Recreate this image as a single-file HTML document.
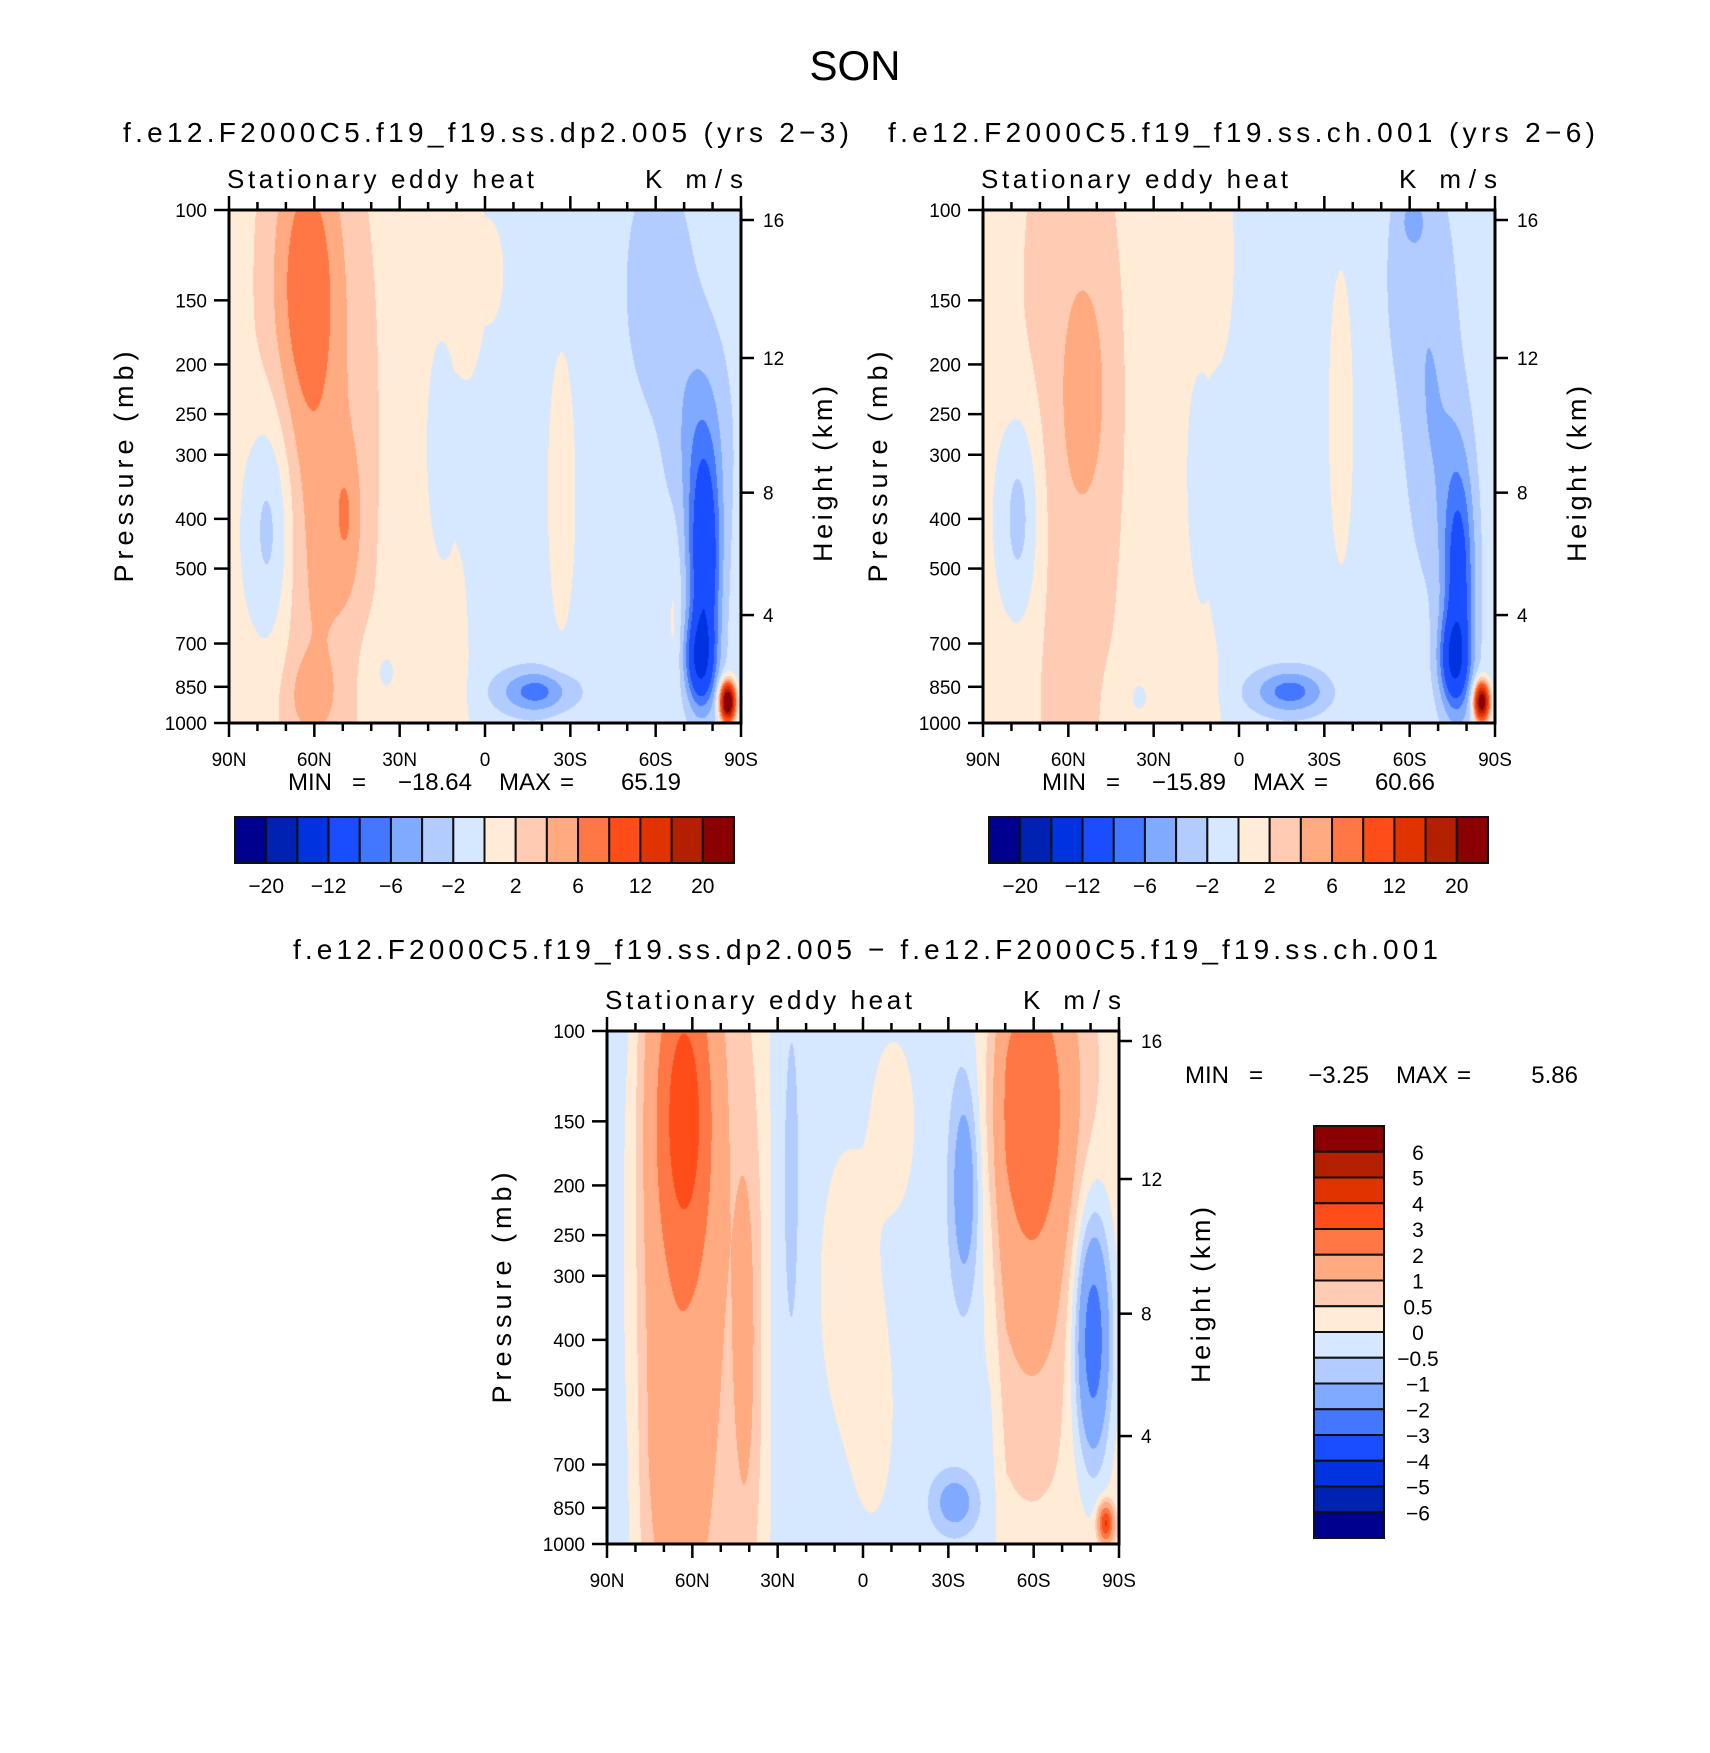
<!DOCTYPE html>
<html><head><meta charset="utf-8"><style>
html,body{margin:0;padding:0;background:#fff;}
#wrap{position:relative;width:1710px;height:1753px;overflow:hidden;background:#fff;}
canvas{position:absolute;}
svg{position:absolute;left:0;top:0;}
text{font-family:"Liberation Sans",sans-serif;fill:#000;white-space:pre;}
</style></head><body>
<div id="wrap">
<canvas id="c1" width="512" height="513" style="left:229px;top:210px"></canvas>
<canvas id="c2" width="512" height="513" style="left:983px;top:210px"></canvas>
<canvas id="c3" width="512" height="513" style="left:607px;top:1031px"></canvas>
<svg id="ov" width="1710" height="1753"></svg>
</div>
<script>
// ---- data ----
const palette=["#00008F","#0022B3","#0033E0","#1A4DFF","#4477FF","#80AAFF","#B3CCFF","#D6E8FF","#FFEBD6","#FFCCB3","#FFAA80","#FF7744","#FF4D1A","#E03300","#B32000","#8B0000"];
const topLevels=[-20,-16,-12,-8,-6,-4,-2,0,2,4,6,8,12,16,20];
const topLevelLabels=["−20","−12","−6","−2","2","6","12","20"];
const diffLevels=[-6,-5,-4,-3,-2,-1,-0.5,0,0.5,1,2,3,4,5,6];
const diffLevelLabels=["−6","−5","−4","−3","−2","−1","−0.5","0","0.5","1","2","3","4","5","6"];
const pressureTicks=[100,150,200,250,300,400,500,700,850,1000];
const latTicks=[90,60,30,0,-30,-60,-90];
const latLabels=["90N","60N","30N","0","30S","60S","90S"];
const heightTicks=[16,12,8,4];
const heightFrac=[0.0195,0.2885,0.551,0.7896];

const baseU=[0,0.05,0.44,0.5,1];
const baseVal=[0.5,1,1,-1,-1];
const leftU=[0.15,0.17,0.17,0.23,0.08,0.16,0.84,0.93,0.92,0.975,0.6,0.65,0.42,0.5,0.3,0.87,0.92];
const leftV=[0.12,0.25,0.75,0.6,0.62,0.95,0.15,0.7,0.88,0.96,0.94,0.55,0.45,0.12,0.9,0.8,0.45];
const leftAmp=[4.2,2.5,2.5,2.5,-5,2.5,-2.2,-10,-9,30,-6,1.8,-2,1.3,-1.6,1.5,-3.5];
const leftSU=[0.045,0.08,0.07,0.02,0.035,0.03,0.05,0.022,0.02,0.01,0.05,0.025,0.03,0.05,0.03,0.01,0.04];
const leftSV=[0.2,0.35,0.3,0.1,0.17,0.05,0.18,0.15,0.06,0.025,0.03,0.25,0.2,0.15,0.06,0.12,0.15];

const rightU=[0.2,0.17,0.07,0.85,0.84,0.93,0.92,0.975,0.6,0.7,0.43,0.3,0.88,0.45];
const rightV=[0.35,0.4,0.6,0.12,0.02,0.72,0.88,0.96,0.94,0.4,0.5,0.95,0.45,0.1];
const rightAmp=[2.5,2.2,-4.5,-2,-2.5,-8.5,-8,26,-6,1.6,-1.8,-1.5,-2.5,1.2];
const rightSU=[0.03,0.08,0.03,0.05,0.015,0.022,0.02,0.01,0.05,0.025,0.03,0.03,0.035,0.04];
const rightSV=[0.15,0.6,0.15,0.2,0.03,0.17,0.06,0.025,0.03,0.3,0.25,0.05,0.2,0.15];

const diffBaseU=[0,0.04,0.08,0.3,0.33,0.75,0.78,1];
const diffBaseVal=[-0.3,-0.3,0.3,0.3,-0.25,-0.25,0.3,0.3];
const diffU=[0.15,0.15,0.13,0.27,0.47,0.7,0.83,0.83,0.95,0.975,0.68,0.52,0.56,0.36];
const diffV=[0.15,0.5,0.85,0.6,0.5,0.3,0.1,0.35,0.6,0.96,0.92,0.75,0.18,0.3];
const diffAmp=[2.3,1.2,0.5,0.9,0.6,-1.5,1.7,1.2,-3,4,-1.2,0.5,0.6,-0.4];
const diffSU=[0.04,0.07,0.025,0.015,0.04,0.02,0.06,0.06,0.025,0.01,0.03,0.03,0.03,0.015];
const diffSV=[0.22,0.6,0.15,0.25,0.2,0.15,0.2,0.3,0.17,0.025,0.04,0.15,0.12,0.3];

// ---- field rendering ----
function interp(xs,ys,x){
  if(x<=xs[0])return ys[0];
  for(let i=1;i<xs.length;i++){if(x<=xs[i]){const t=(x-xs[i-1])/(xs[i]-xs[i-1]);return ys[i-1]+t*(ys[i]-ys[i-1]);}}
  return ys[ys.length-1];
}
function hexRGB(h){return [parseInt(h.substr(1,2),16),parseInt(h.substr(3,2),16),parseInt(h.substr(5,2),16)];}
const palRGB=palette.map(hexRGB);
function render(id,bu,bv,U,V,A,SU,SV,levels){
  const c=document.getElementById(id),ctx=c.getContext('2d');
  const W=c.width,H=c.height,img=ctx.createImageData(W,H);
  for(let y=0;y<H;y++){const v=y/(H-1);
    for(let x=0;x<W;x++){const u=x/(W-1);
      let val=interp(bu,bv,u);
      for(let k=0;k<U.length;k++){const du=(u-U[k])/SU[k],dv=(v-V[k])/SV[k];val+=A[k]*Math.exp(-0.5*(du*du+dv*dv));}
      let idx=0;while(idx<levels.length&&val>=levels[idx])idx++;
      const col=palRGB[idx],p=(y*W+x)*4;
      img.data[p]=col[0];img.data[p+1]=col[1];img.data[p+2]=col[2];img.data[p+3]=255;}}
  ctx.putImageData(img,0,0);
}
render('c1',baseU,baseVal,leftU,leftV,leftAmp,leftSU,leftSV,topLevels);
render('c2',baseU,baseVal,rightU,rightV,rightAmp,rightSU,rightSV,topLevels);
render('c3',diffBaseU,diffBaseVal,diffU,diffV,diffAmp,diffSU,diffSV,diffLevels);

// ---- svg overlay ----
const NS="http://www.w3.org/2000/svg";
const ov=document.getElementById('ov');
function el(tag,attrs,parent,txt){const e=document.createElementNS(NS,tag);for(const k in attrs)e.setAttribute(k,attrs[k]);if(txt!==undefined)e.textContent=txt;(parent||ov).appendChild(e);return e;}
function txt(parent,x,y,s,size,anchor,name,extra){
  const t=el('text',Object.assign({x:x,y:y,'font-size':size,'text-anchor':anchor||'start'},extra||{}),parent,s);
  
  
  return t;
}
const PW=512,PH=513;
function pY(p){return Math.log10(p/100)*PH;}
function latX(l){return (90-l)/180*PW;}
function panel(dx,dy,prefix){
  const g=el('g',{transform:`translate(${dx},${dy})`});
  
  
  el('rect',{x:0,y:0,width:PW,height:PH,fill:'none',stroke:'#000','stroke-width':3},g);
  pressureTicks.forEach(p=>{const y=pY(p);
    el('line',{x1:-15,x2:0,y1:y,y2:y,stroke:'#000','stroke-width':2.5},g);
    txt(g,-22,y+7,String(p),19,'end',prefix+'-pressure-tick-label');});
  for(let l=90;l>=-90;l-=10){const x=latX(l),maj=(l%30===0),len=maj?14:8;
    el('line',{x1:x,x2:x,y1:0,y2:-len,stroke:'#000','stroke-width':2.5},g);
    el('line',{x1:x,x2:x,y1:PH,y2:PH+len,stroke:'#000','stroke-width':2.5},g);}
  latTicks.forEach((l,i)=>txt(g,latX(l),PH+43,latLabels[i],19,'middle',prefix+'-lat-tick-label'));
  heightTicks.forEach((h,i)=>{const y=heightFrac[i]*PH;
    el('line',{x1:PW,x2:PW+13,y1:y,y2:y,stroke:'#000','stroke-width':2.5},g);
    txt(g,PW+22,y+7,String(h),19,'start',prefix+'-height-tick-label');});
  txt(g,-2,-22,'Stationary eddy heat',26,'start',prefix+'-variable-title',{textLength:307,lengthAdjust:'spacing'});
  txt(g,416,-22,'K m/s',26,'start',prefix+'-units-label',{textLength:98,lengthAdjust:'spacing'});
  txt(g,0,0,'Pressure (mb)',27,'middle',prefix+'-y-axis-title',{transform:`translate(-96,257) rotate(-90)`,textLength:231,lengthAdjust:'spacing'});
  txt(g,0,0,'Height (km)',27,'middle',prefix+'-right-axis-title',{transform:`translate(603,264) rotate(-90)`,textLength:176,lengthAdjust:'spacing'});
  return g;
}
function hbar(x0,y0,w,h,prefix){
  const g=el('g',{});
  
  
  const bw=w/palette.length;
  palette.forEach((c,i)=>{const r=el('rect',{x:x0+i*bw,y:y0,width:bw,height:h,fill:c,stroke:'#111','stroke-width':2},g);
    
    });
  topLevelLabels.forEach((s,i)=>txt(g,x0+(2*i+1)*bw,y0+h+30,s,21,'middle',prefix+'-colorbar-label'));
}
txt(ov,855,80,'SON',42,'middle','main-title');
txt(ov,123,142,'f.e12.F2000C5.f19_f19.ss.dp2.005 (yrs 2−3)',28,'start','left-panel-title',{textLength:726,lengthAdjust:'spacing'});
txt(ov,888,142,'f.e12.F2000C5.f19_f19.ss.ch.001 (yrs 2−6)',28,'start','right-panel-title',{textLength:707,lengthAdjust:'spacing'});
txt(ov,293,959,'f.e12.F2000C5.f19_f19.ss.dp2.005 − f.e12.F2000C5.f19_f19.ss.ch.001',28,'start','diff-panel-title',{textLength:1145,lengthAdjust:'spacing'});
panel(229,210,'left');
panel(983,210,'right');
panel(607,1031,'diff');
function minmax(x,y,a,b,name){
  txt(ov,x,y,'MIN',24,'start',name+'-min-label');
  txt(ov,x+64,y,'=',24,'start',name+'-min-eq');
  txt(ov,x+184,y,a,24,'end',name+'-min-value');
  txt(ov,x+211,y,'MAX',24,'start',name+'-max-label');
  txt(ov,x+272,y,'=',24,'start',name+'-max-eq');
  txt(ov,x+393,y,b,24,'end',name+'-max-value');
}
minmax(288,790,'−18.64','65.19','left');
minmax(1042,790,'−15.89','60.66','right');
minmax(1185,1083,'−3.25','5.86','diff');
hbar(235,817,499,46,'left');
hbar(989,817,499,46,'right');
(function(){
  const g=el('g',{});
  
  
  const x0=1314,y0=1126,w=70,h=412,bh=h/palette.length;
  palette.slice().reverse().forEach((c,i)=>{const r=el('rect',{x:x0,y:y0+i*bh,width:w,height:bh,fill:c,stroke:'#111','stroke-width':2},g);
    
    });
  diffLevelLabels.slice().reverse().forEach((s,i)=>txt(g,1418,y0+(i+1)*bh+8,s,21,'middle','diff-colorbar-label'));
})();
</script>
</body></html>
